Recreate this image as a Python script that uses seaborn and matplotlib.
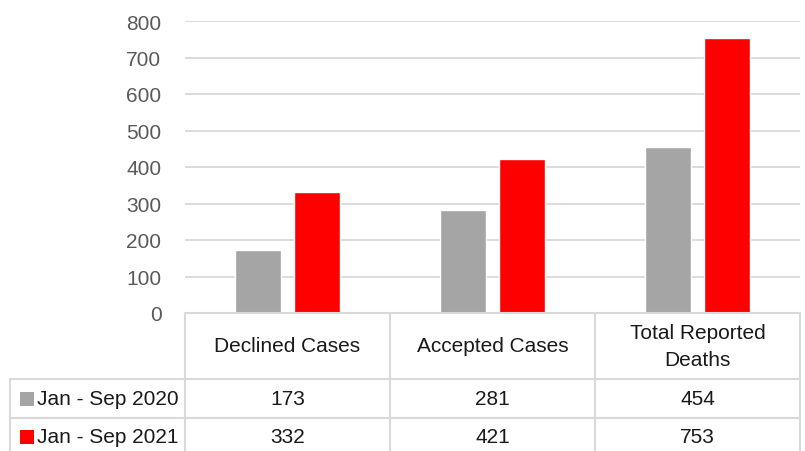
import matplotlib
matplotlib.use("Agg")
import matplotlib.pyplot as plt
import seaborn as sns
import pandas as pd

# chart data
categories = ["Declined Cases", "Accepted Cases", "Total Reported\nDeaths"]
series_names = ["Jan - Sep 2020", "Jan - Sep 2021"]
values_2020 = [173, 281, 454]
values_2021 = [332, 421, 753]
y_ticks = [0, 100, 200, 300, 400, 500, 600, 700, 800]
colors = ["#a5a5a5", "#ff0000"]

df = pd.DataFrame({
    "category": categories * 2,
    "series": [series_names[0]] * 3 + [series_names[1]] * 3,
    "value": values_2020 + values_2021,
})

sns.set_style("white")
plt.rcParams["font.family"] = ["Liberation Sans", "DejaVu Sans"]

W, H = 805, 452
fig = plt.figure(figsize=(W / 100, H / 100), dpi=100)

# plot area (pixels): x 185..800, y 22..314
ax = fig.add_axes([185 / W, 1 - 314 / H, 615 / W, 292 / H])
sns.barplot(data=df, x="category", y="value", hue="series", palette=colors,
            width=0.58, gap=0.22, saturation=1, legend=False, ax=ax, zorder=3)
ax.set_xlim(-0.5, 2.5)
ax.set_ylim(0, 800)
ax.set_yticks(y_ticks)
ax.set_yticklabels([str(t) for t in y_ticks], fontsize=15, color="#595959")
ax.tick_params(axis="y", length=0, pad=17)
ax.set_xticks([])
ax.set_xlabel("")
ax.set_ylabel("")
ax.grid(axis="y", color="#d9d9d9", linewidth=1.3, zorder=0)
for s in ax.spines.values():
    s.set_visible(False)

# data table below the plot
tb = fig.add_axes([185 / W, 0, 615 / W, 138 / H])
tb.set_xlim(-0.5, 2.5)
tb.set_ylim(138, 0)
tb.axis("off")
line_kw = dict(color="#d9d9d9", linewidth=1.5, clip_on=False)
left = -0.5 - 175 / 205
tb.plot([-0.5, 2.5], [0, 0], **line_kw)
tb.plot([left, 2.5], [66, 66], **line_kw)
tb.plot([left, 2.5], [105, 105], **line_kw)
for xv in [-0.5, 0.5, 1.5, 2.5]:
    tb.plot([xv, xv], [0, 138], **line_kw)
tb.plot([left, left], [66, 138], **line_kw)

txt_kw = dict(fontsize=15, color="#1a1a1a", clip_on=False)
for i, cat in enumerate(categories):
    tb.text(i, 33, cat, ha="center", va="center", linespacing=1.5, **txt_kw)

row_y = [86, 124]
for r, (name, vals) in enumerate(zip(series_names, [values_2020, values_2021])):
    tb.scatter([left + 0.085], [row_y[r]], marker="s", s=105, color=colors[r],
               clip_on=False, linewidths=0)
    tb.text(left + 0.13, row_y[r], name, ha="left", va="center", **txt_kw)
    for i, v in enumerate(vals):
        tb.text(i, row_y[r], str(v), ha="center", va="center", **txt_kw)

fig.savefig("out.png", dpi=100)
